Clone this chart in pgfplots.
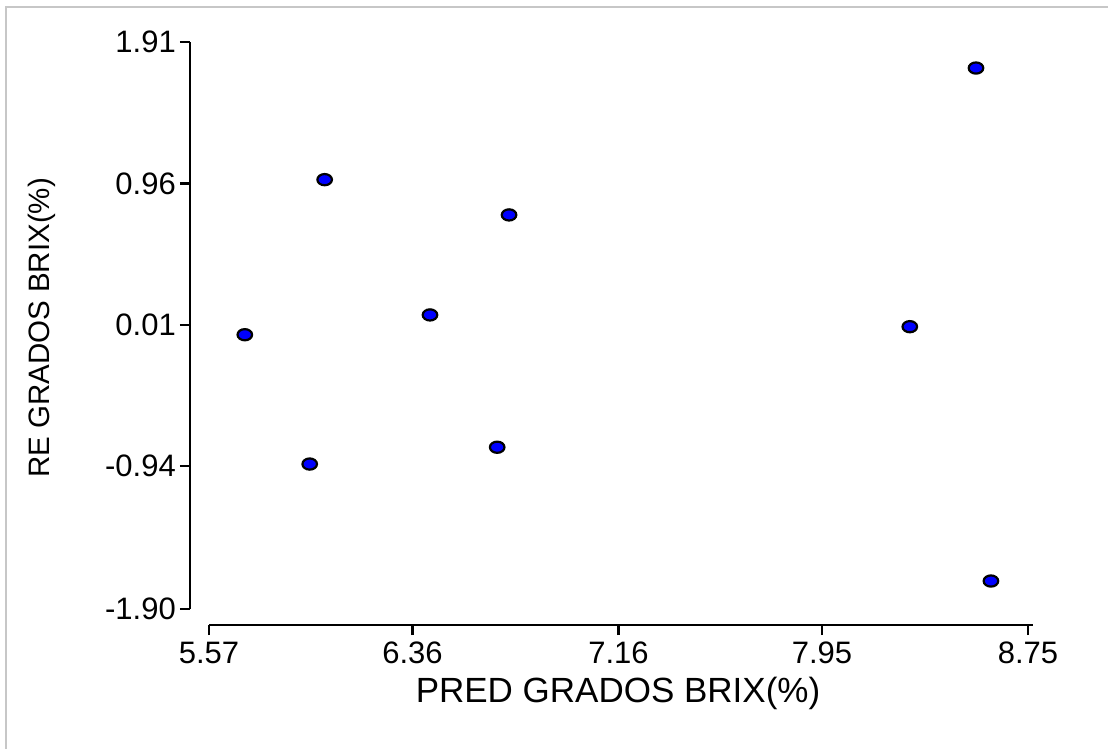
\documentclass[border=0pt]{standalone}
\usepackage{pgfplots}
\pgfplotsset{compat=1.18}
\usepackage{fontspec}
\setmainfont{Liberation Sans}
\begin{document}
\begin{tikzpicture}
\path[use as bounding box] (0,0) rectangle (1108bp,749bp);
\fill[white] (0,0) rectangle (1108bp,749bp);
\draw[color=black!22, line width=2bp] (6bp,0) -- (6bp,742bp) -- (1108bp,742bp);
\begin{axis}[
  at={(190bp,124bp)}, anchor=south west,
  scale only axis, width=843bp, height=583bp,
  xmin=5.4962, xmax=8.7694, ymin=-2.0075, ymax=1.91,
  axis x line*=bottom, axis y line*=left,
  axis line style={draw=none},
  clip=false,
  tick align=outside,
  major tick length=10bp,
  tick style={black, line width=2.4bp},
  xtick={5.57,6.36,7.16,7.95,8.75},
  xticklabels={5.57,6.36,7.16,7.95,8.75},
  ytick={-1.90,-0.94,0.01,0.96,1.91},
  yticklabels={-1.90,-0.94,0.01,0.96,1.91},
  tick label style={font=\fontsize{31bp}{35bp}\selectfont},
  yticklabel style={inner sep=0pt, xshift=-4bp},
  xticklabel style={inner sep=0pt, yshift=-7bp},
]
\addplot[only marks, mark=*, mark size=5.6bp,
  mark options={xscale=1.3, fill=blue, draw=black, line width=2.2bp}]
  coordinates {
  (5.709,-0.057) (5.961,-0.926) (6.019,0.985) (6.428,0.076)
  (6.689,-0.813) (6.735,0.748) (8.291,-0.003) (8.548,1.735) (8.606,-1.712)
  };
\draw[black, line width=2.4bp] (axis cs:5.4962,-1.90) -- (axis cs:5.4962,1.91);
\draw[black, line width=2.4bp] (axis cs:5.57,-2.0075) -- (axis cs:8.7694,-2.0075);
\end{axis}
\node[font=\fontsize{35bp}{39bp}\selectfont] at (618bp,56bp) {PRED GRADOS BRIX(\%)};
\node[font=\fontsize{29.5bp}{34bp}\selectfont, rotate=90] at (42bp,421bp) {RE GRADOS BRIX(\%)};
\end{tikzpicture}
\end{document}
